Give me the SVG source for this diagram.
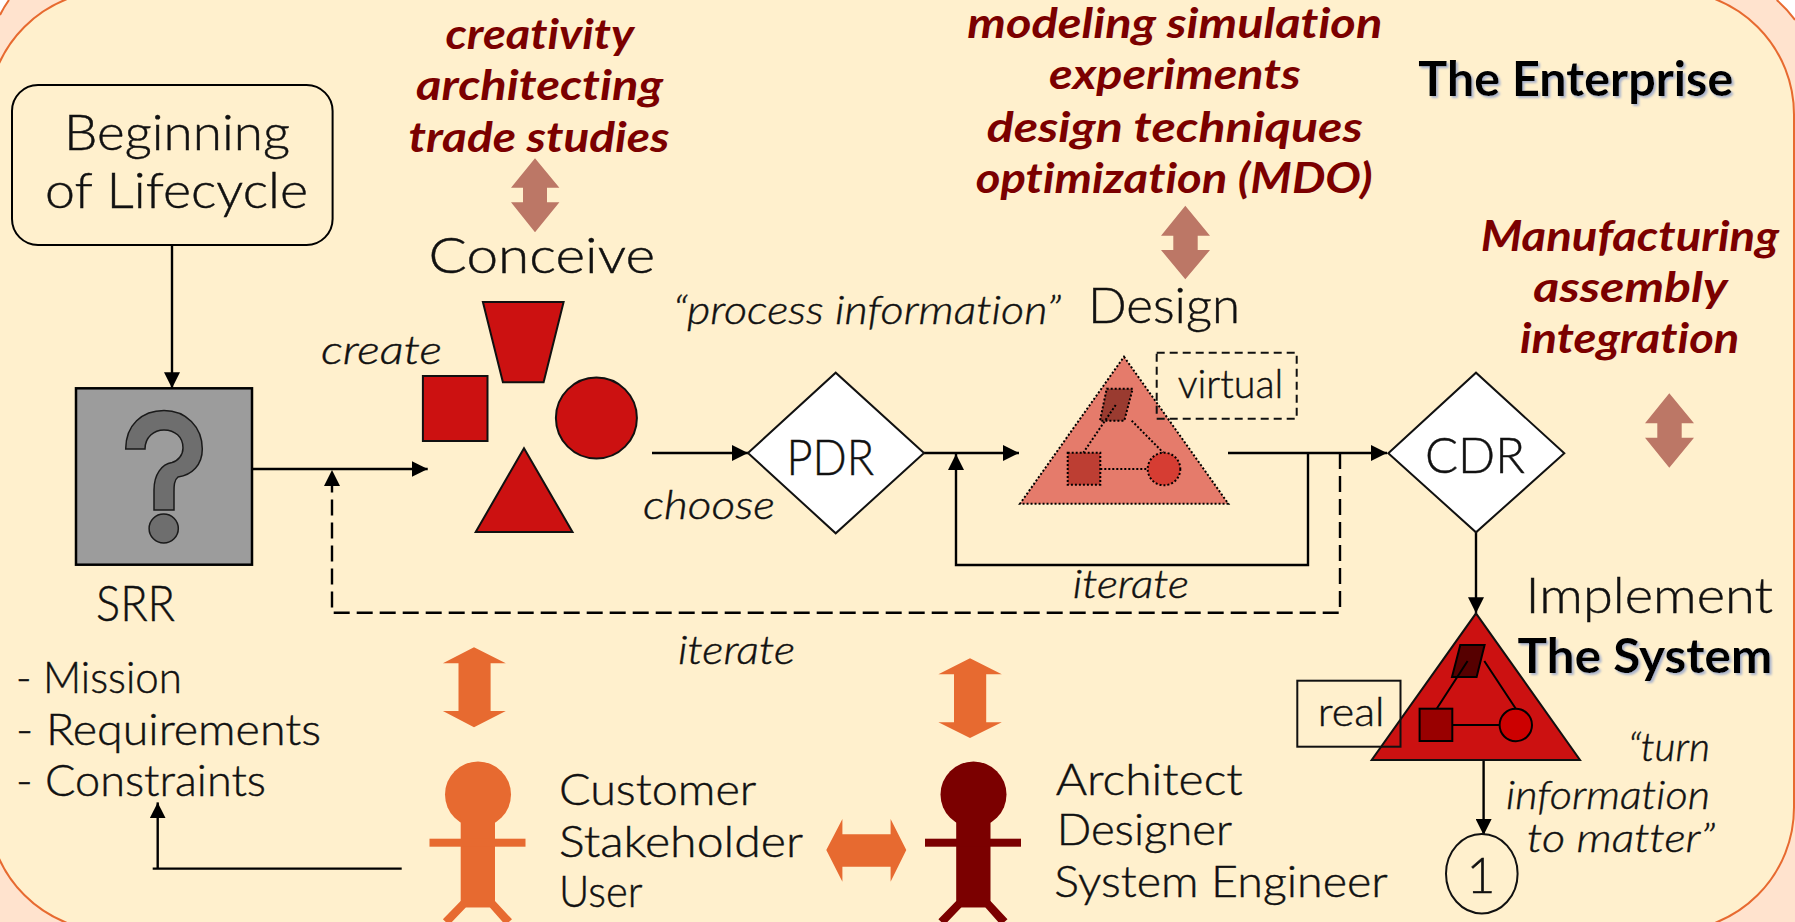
<svg xmlns="http://www.w3.org/2000/svg" width="1795" height="922" viewBox="0 0 1795 922">
<style>
text{font-family:"Lato","Open Sans","Liberation Sans",sans-serif;fill:#111;font-weight:300;stroke:#111;stroke-width:.45;font-variant-ligatures:none}
.l{font-size:50px}.m{font-size:44px}.i{font-size:40px;font-style:italic}
.h{font-size:42px;font-style:italic;font-weight:700;fill:#7b0000;stroke:none}
.b{font-size:48px;font-weight:700;fill:#000;stroke:none;filter:url(#sh)}
.ln{fill:none;stroke:#000;stroke-width:2.4}
.ar{marker-end:url(#a)}
.da{stroke-dasharray:16 7}
.red{fill:#cc1111;stroke:#111;stroke-width:2}
.dot{stroke:#000;stroke-width:2;stroke-dasharray:2 2}
.sol{stroke:#000;stroke-width:2}
.pale{fill:#bc7766}.or{fill:#e76a30}
</style>
<defs>
<marker id="a" markerUnits="userSpaceOnUse" markerWidth="16" markerHeight="16" refX="16" refY="8" orient="auto"><path d="M0 0L16 8L0 16Z" fill="#000"/></marker>
<filter id="sh" x="-5%" y="-10%" width="110%" height="125%"><feDropShadow dx="2" dy="2" stdDeviation="1" flood-color="#aab4cc"/></filter>
<g id="person"><ellipse cx="478" cy="794.5" rx="33" ry="33"/><rect x="460.7" y="815" width="34.3" height="92.3"/><rect x="429.5" y="838.7" width="96" height="8"/><path d="M460.7 901L442.9 919.3L449 925L466 907.3H489.7L505.4 925L512 919.3L495 901Z"/></g>
</defs>
<g id="background">
<rect width="1795" height="922" fill="#fff"/>
<path d="M9 0H1776.7Q1787 9 1795 20V922H0V15Q4 7 9 0Z" fill="#ffe3ce"/>
<path d="M1776.7 0Q1787 9 1795 20M0 15Q4 7 9 0" fill="none" stroke="#e76a30" stroke-width="2"/>
<rect x="-12" y="-9.4" width="1806" height="940.8" rx="124" ry="124" fill="#fff0cd" stroke="#e76a30" stroke-width="2"/>
</g>
<g id="labels-top">
<g id="conceive-methods">
<text class="h" x="445.5" y="49.3" textLength="188.5" lengthAdjust="spacingAndGlyphs">creativity</text>
<text class="h" x="416" y="100" textLength="247" lengthAdjust="spacingAndGlyphs">architecting</text>
<text class="h" x="408.5" y="151.7" textLength="261" lengthAdjust="spacingAndGlyphs">trade studies</text>
<path class="pale" d="M535 158.3L559.4 187.7H547V202.3H559.4L535 232.3L511 202.3H523V187.7H511Z"/>
</g>
<g id="design-methods">
<text class="h" x="967.3" y="38.3" textLength="415" lengthAdjust="spacingAndGlyphs">modeling simulation</text>
<text class="h" x="1049" y="89.3" textLength="251.7" lengthAdjust="spacingAndGlyphs">experiments</text>
<text class="h" x="986.7" y="141.7" textLength="376" lengthAdjust="spacingAndGlyphs">design techniques</text>
<text class="h" x="975.7" y="192.7" textLength="397" lengthAdjust="spacingAndGlyphs">optimization (MDO)</text>
<path class="pale" d="M1185.3 205.7L1210 235.7H1197.7V250H1210L1185.3 279.3L1161 250H1173.3V235.7H1161Z"/>
</g>
<g id="implement-methods">
<text class="h" x="1480.7" y="250.7" textLength="298.3" lengthAdjust="spacingAndGlyphs">Manufacturing</text>
<text class="h" x="1533.3" y="301.7" textLength="194.4" lengthAdjust="spacingAndGlyphs">assembly</text>
<text class="h" x="1520" y="352.7" textLength="219.3" lengthAdjust="spacingAndGlyphs">integration</text>
<path class="pale" d="M1669.3 393.3L1694 423.3H1681.7V437.7H1694L1669.3 467.7L1645 437.7H1657.3V423.3H1645Z"/>
</g>
<text id="enterprise" class="b" x="1418.3" y="96" textLength="315" lengthAdjust="spacingAndGlyphs">The Enterprise</text>
</g>
<g id="connectors">
<path class="ln ar" d="M172 245V388.3"/>
<path class="ln ar" d="M252 469H427.7"/>
<path class="ln ar da" d="M1340 453V612.7H332V470"/>
<path class="ln ar" d="M652 453H748"/>
<path class="ln ar" d="M924 453H1019"/>
<path class="ln ar" d="M1308 453V565H956V454"/>
<path class="ln ar" d="M1228 453H1387"/>
<path class="ln ar" d="M1476 532V613.3"/>
<path class="ln ar" d="M1483.6 757V835"/>
<path class="ln" d="M401.7 868.6H152.7"/>
<path class="ln ar" d="M157.7 868.6V802.4"/>
</g>
<g id="begin"><rect x="12" y="85" width="320.6" height="160" rx="26" fill="#fff0cd" stroke="#000" stroke-width="2"/>
<text class="l" x="64" y="150" textLength="226" lengthAdjust="spacingAndGlyphs">Beginning</text>
<text class="l" x="45" y="208" textLength="263" lengthAdjust="spacingAndGlyphs">of Lifecycle</text></g>
<g id="srr"><rect x="76" y="388.3" width="176" height="176.4" fill="#9c9c9c" stroke="#000" stroke-width="2.5"/>
<path d="M125.7 449C125.7 425 142 410.5 164 410.5C186 410.5 202.3 427 202.3 449C202.3 465 192 475 178 477C174 480 174 486 174 492V510H154V490C154 474 162 464 172 462.5C178 461 183 455 183 448C183 437 175 429.9 164 429.9C154 429.9 145 437 145 449Z" fill="#6e6e6e" stroke="#1a1a1a" stroke-width="1.5"/>
<circle cx="163.7" cy="528.5" r="14.6" fill="#6e6e6e" stroke="#1a1a1a" stroke-width="1.5"/>
<text class="l" x="96" y="621.4" textLength="79" lengthAdjust="spacingAndGlyphs">SRR</text></g>
<g id="srr-list">
<text class="m" x="16" y="693" textLength="166" lengthAdjust="spacingAndGlyphs">- Mission</text>
<text class="m" x="16" y="745" textLength="305" lengthAdjust="spacingAndGlyphs">- Requirements</text>
<text class="m" x="16" y="796" textLength="250" lengthAdjust="spacingAndGlyphs">- Constraints</text>
</g>
<g id="conceive">
<text class="l" x="428.6" y="272.7" textLength="226.4" lengthAdjust="spacingAndGlyphs">Conceive</text>
<text class="i" x="321" y="364" textLength="121" lengthAdjust="spacingAndGlyphs">create</text>
<polygon class="red" points="482.9,302 563.6,302 543.6,382.3 502.9,382.3"/>
<rect class="red" x="422.9" y="376" width="64.6" height="65"/>
<circle class="red" cx="596.4" cy="418" r="40.5"/>
<polygon class="red" points="524,448.3 572.5,532 475.7,532"/>
</g>
<text id="choose" class="i" x="643" y="518.7" textLength="132" lengthAdjust="spacingAndGlyphs">choose</text>
<g id="pdr"><polygon points="748,453 835.7,372.7 924,453 835.7,533.3" fill="#fff" stroke="#111" stroke-width="2"/>
<text class="l" x="786.4" y="474.7" textLength="87.6" lengthAdjust="spacingAndGlyphs">PDR</text></g>
<text id="process-info" class="i" x="673" y="323.5" textLength="388" lengthAdjust="spacingAndGlyphs">“process information”</text>
<g id="design">
<text class="l" x="1088" y="323" textLength="152" lengthAdjust="spacingAndGlyphs">Design</text>
<polygon points="1124,356.7 1228.3,503.7 1020,503.7" fill="#e57b6b" stroke="#000" stroke-width="2" stroke-dasharray="2 2"/>
<polygon class="dot" points="1106.7,388.7 1132.7,388.7 1124.3,420.7 1100,420.7" fill="#9a3b30"/>
<path class="dot" d="M1115.7 405L1083.3 452.7M1131.7 420.7L1163.3 452.7M1100.3 469H1147.7" fill="none"/>
<rect class="dot" x="1067.7" y="452.7" width="32.6" height="32" fill="#bd3e33"/>
<circle class="dot" cx="1164" cy="469" r="16.3" fill="#d63d33"/>
<rect x="1156.7" y="352.7" width="140" height="66" fill="none" stroke="#111" stroke-width="2" stroke-dasharray="8 5"/>
<text class="i" style="font-style:normal" x="1177.7" y="398.3" textLength="105.6" lengthAdjust="spacingAndGlyphs">virtual</text>
</g>
<text id="iterate-inner" class="i" x="1072.7" y="598.3" textLength="116.3" lengthAdjust="spacingAndGlyphs">iterate</text>
<text id="iterate-outer" class="i" x="678" y="664" textLength="117" lengthAdjust="spacingAndGlyphs">iterate</text>
<g id="cdr"><polygon points="1388.3,453.3 1476,372.7 1564.3,453.3 1476,532.3" fill="#fff" stroke="#111" stroke-width="2"/>
<text class="l" x="1425" y="473.3" textLength="100" lengthAdjust="spacingAndGlyphs">CDR</text></g>
<g id="implement">
<polygon class="red" points="1476,613.3 1580,760 1371.7,760"/>
<polygon class="sol" points="1460.3,645 1484.6,645 1476.6,677 1452,677" fill="#560000"/>
<path class="sol" d="M1467.6 661L1436.7 708.7M1484.3 661L1516 709M1452.3 725H1499.6" fill="none"/>
<rect class="sol" x="1419.6" y="708.7" width="32.7" height="32.3" fill="#990000"/>
<circle class="sol" cx="1515.8" cy="725" r="16.2" fill="#cc0000"/>
<rect x="1297.3" y="680.7" width="103.2" height="66" fill="none" stroke="#111" stroke-width="2"/>
<text class="i" style="font-style:normal" x="1317.8" y="726" textLength="66.7" lengthAdjust="spacingAndGlyphs">real</text>
<text class="l" x="1525.6" y="613.3" textLength="247.4" lengthAdjust="spacingAndGlyphs">Implement</text>
<text class="b" x="1517.6" y="673.3" textLength="254.8" lengthAdjust="spacingAndGlyphs">The System</text>
<text class="i" x="1628" y="761" textLength="82" lengthAdjust="spacingAndGlyphs">“turn</text>
<text class="i" x="1506" y="809.3" textLength="204" lengthAdjust="spacingAndGlyphs">information</text>
<text class="i" x="1527" y="851.7" textLength="188" lengthAdjust="spacingAndGlyphs">to matter”</text>
</g>
<g id="off-page-1"><ellipse cx="1481.8" cy="873.7" rx="35.8" ry="39.7" fill="none" stroke="#111" stroke-width="2"/>
<text class="l" x="1481" y="893" text-anchor="middle">1</text></g>
<g id="customer"><path class="or" d="M474 647.3L505.8 663.3H490.6V711H505.8L474 727.3L442.9 711H458.5V663.3H442.9Z"/>
<use href="#person" class="or"/>
<text class="m" x="559" y="805" textLength="197.3" lengthAdjust="spacingAndGlyphs">Customer</text>
<text class="m" x="559" y="856.7" textLength="244" lengthAdjust="spacingAndGlyphs">Stakeholder</text>
<text class="m" x="559" y="907.3" textLength="83.4" lengthAdjust="spacingAndGlyphs">User</text></g>
<path id="exchange" class="or" d="M826.3 850L842.4 819V834.3H890.6V819L906.3 850L890.6 881.7V866.7H842.4V881.7Z"/>
<g id="architect"><path class="or" d="M970 658.3L1001.8 674.3H986.2V722.3H1001.8L970 738L938.4 722.3H954V674.3H938.4Z"/>
<use href="#person" x="495.5" fill="#7b0000"/>
<text class="m" x="1055.7" y="795" textLength="187" lengthAdjust="spacingAndGlyphs">Architect</text>
<text class="m" x="1056.7" y="845" textLength="175.3" lengthAdjust="spacingAndGlyphs">Designer</text>
<text class="m" x="1054.3" y="897" textLength="333.4" lengthAdjust="spacingAndGlyphs">System Engineer</text></g>
</svg>
